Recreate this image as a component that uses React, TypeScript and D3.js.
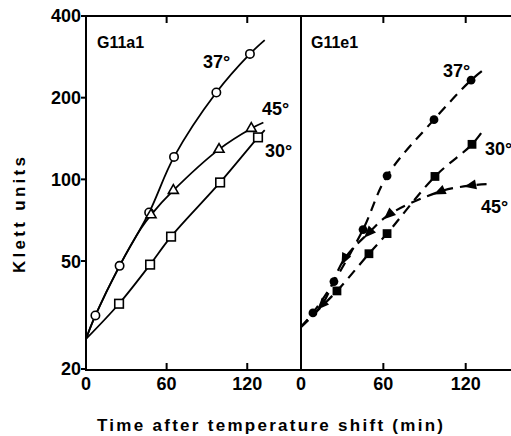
import React from 'react';
import * as d3 from 'd3';

type P = [number, number];

// axis ticks
const yTicks = [20, 50, 100, 200, 400];
const xTicks = [0, 60, 120];

// G11a1 (left panel): open markers, solid lines
const a37Marks: P[] = [[7, 31.5], [25, 48], [47, 75.5], [65.5, 121], [97, 209], [122, 290]];
const a37Ends: P[] = [[0, 25.8], [133, 326]];
const a45Marks: P[] = [[48.4, 74], [65, 91], [99, 129], [123, 154]];
const a45Lead: P[] = [[0, 25.8], [7, 31.5], [25, 48], [41, 66]];
const a45End: P = [132, 162];
const a30Marks: P[] = [[24.6, 34.8], [47.7, 48.5], [63.3, 61.5], [99.8, 97.4], [128, 142.8]];
const a30Ends: P[] = [[0, 25.8], [133, 152]];

// G11e1 (right panel): filled markers, dashed lines
const e37Marks: P[] = [[8.7, 32.2], [24, 42], [45.2, 65.3], [62.7, 103], [96.9, 166], [123.9, 232]];
const e37Ends: P[] = [[0, 28.6], [135.5, 259]];
const e30Marks: P[] = [[26.2, 38.8], [49.5, 53.2], [62.7, 63.1], [97.6, 102.5], [124.6, 134.6]];
const e30Ends: P[] = [[0, 28.6], [134, 155]];
const e45Marks: P[] = [[15.3, 34.5], [31.7, 51], [49.5, 63.6], [64.1, 74.1], [101.3, 90.2], [123.9, 95]];
const e45Ends: P[] = [[0, 28.6], [135.5, 96]];

const FONT = '"Liberation Sans", Arial, sans-serif';

export default function App() {
  const W = 511, H = 436;
  const top = 16, bottom = 369;
  const xL = d3.scaleLinear().domain([0, 160]).range([86, 301]);
  const xR = d3.scaleLinear().domain([0, 153]).range([301, 511]);
  const y = d3.scaleLog().domain([20, 400]).range([bottom, top]);

  const mkLine = (xs: d3.ScaleLinear<number, number>, curve: d3.CurveFactory) =>
    d3.line<P>().x(d => xs(d[0])).y(d => y(d[1])).curve(curve);

  const lineL = mkLine(xL, d3.curveCatmullRom.alpha(0.5));
  const lineR = mkLine(xR, d3.curveCatmullRom.alpha(0.5));

  const a37Path = [a37Ends[0], ...a37Marks, a37Ends[1]];
  const a45Path = [...a45Lead, ...a45Marks, a45End];
  const a30Path = [a30Ends[0], ...a30Marks, a30Ends[1]];
  const e37Path = [e37Ends[0], ...e37Marks, e37Ends[1]];
  const e30Path = [e30Ends[0], ...e30Marks, e30Ends[1]];
  const e45Path = [e45Ends[0], ...e45Marks, e45Ends[1]];

  const tri = (s: number) => {
    const h = s * Math.sqrt(3) / 2;
    return `M0,${-2 * h / 3}L${s / 2},${h / 3}L${-s / 2},${h / 3}Z`;
  };

  // arrow-like filled triangles pointing back along the line
  const arrows = e45Marks.map((d, i) => {
    const prev = i === 0 ? e45Ends[0] : e45Marks[i - 1];
    const px = xR(d[0]), py = y(d[1]);
    const qx = xR(prev[0]), qy = y(prev[1]);
    const ang = Math.atan2(qy - py, qx - px) * 180 / Math.PI;
    return { px, py, ang };
  });

  const tickFont = { fontFamily: FONT, fontSize: 18, fontWeight: 700 as const };

  return (
    <svg width={W} height={H} style={{ position: 'absolute', left: 0, top: 0, background: '#fff' }}>
      <rect x={0} y={0} width={W} height={H} fill="#fff" />
      {/* frame */}
      <g stroke="#000" strokeWidth={2} fill="none">
        <line x1={86} y1={top} x2={W} y2={top} />
        <line x1={86} y1={bottom + 1} x2={W} y2={bottom + 1} />
        <line x1={86} y1={top - 1} x2={86} y2={bottom + 2} />
        <line x1={301} y1={top - 1} x2={301} y2={bottom + 2} />
      </g>
      {/* y ticks */}
      {yTicks.map(t => (
        <g key={'y' + t}>
          <line x1={81} x2={86} y1={y(t)} y2={y(t)} stroke="#000" strokeWidth={2} />
          <text x={81} y={y(t)} dy="0.36em" textAnchor="end" {...tickFont}>{t}</text>
        </g>
      ))}
      {/* x ticks */}
      {[xL, xR].map((xs, k) => (
        <g key={'x' + k}>
          {xTicks.map(t => (
            <g key={t}>
              {t > 0 && (
                <>
                  <line x1={xs(t)} x2={xs(t)} y1={top} y2={top + 7} stroke="#000" strokeWidth={2} />
                  <line x1={xs(t)} x2={xs(t)} y1={bottom + 1} y2={bottom - 6} stroke="#000" strokeWidth={2} />
                </>
              )}
              <text x={xs(t)} y={390} textAnchor="middle" {...tickFont}>{t}</text>
            </g>
          ))}
        </g>
      ))}
      {/* axis titles */}
      <text transform="translate(25,215) rotate(-90)" textAnchor="middle" textLength={116} lengthAdjust="spacing"
        fontFamily={FONT} fontSize={17} fontWeight={700}>Klett units</text>
      <text x={270} y={431} textAnchor="middle" textLength={346} lengthAdjust="spacing"
        fontFamily={FONT} fontSize={17} fontWeight={700}>Time after temperature shift (min)</text>

      {/* left panel lines */}
      <g fill="none" stroke="#000" strokeWidth={1.8}>
        <path d={lineL(a37Path) || ''} />
        <path d={lineL(a45Path) || ''} />
        <path d={lineL(a30Path) || ''} />
      </g>
      {/* left markers */}
      <g fill="#fff" stroke="#000" strokeWidth={1.6}>
        {a37Marks.map((d, i) => <circle key={'c' + i} cx={xL(d[0])} cy={y(d[1])} r={4.2} />)}
        {a45Marks.map((d, i) => <path key={'t' + i} d={tri(10)} transform={`translate(${xL(d[0])},${y(d[1])})`} />)}
        {a30Marks.map((d, i) => <rect key={'s' + i} x={xL(d[0]) - 4.3} y={y(d[1]) - 4.3} width={8.6} height={8.6} />)}
      </g>

      {/* right panel lines */}
      <g fill="none" stroke="#000" strokeWidth={2.2} strokeDasharray="10,7">
        <path d={lineR(e37Path) || ''} />
        <path d={lineR(e30Path) || ''} />
        <path d={lineR(e45Path) || ''} />
      </g>
      {/* right markers */}
      <g fill="#000" stroke="none">
        {e37Marks.map((d, i) => <circle key={'c' + i} cx={xR(d[0])} cy={y(d[1])} r={4.4} />)}
        {e30Marks.map((d, i) => <rect key={'s' + i} x={xR(d[0]) - 4.4} y={y(d[1]) - 4.4} width={8.8} height={8.8} />)}
        {arrows.map((a, i) => (
          <path key={'a' + i} d="M7,0L-5,-5L-5,5Z" transform={`translate(${a.px},${a.py}) rotate(${a.ang})`} />
        ))}
      </g>

      {/* labels */}
      <g fontFamily={FONT} fontWeight={700}>
        <text x={97} y={48} fontSize={16}>G11a1</text>
        <text x={203} y={68} fontSize={18}>37°</text>
        <text x={262} y={115} fontSize={18}>45°</text>
        <text x={265} y={157} fontSize={18}>30°</text>
        <text x={311} y={48} fontSize={16}>G11e1</text>
        <text x={443} y={77} fontSize={18}>37°</text>
        <text x={485} y={155} fontSize={18}>30°</text>
        <text x={481} y={213} fontSize={18}>45°</text>
      </g>
    </svg>
  );
}
